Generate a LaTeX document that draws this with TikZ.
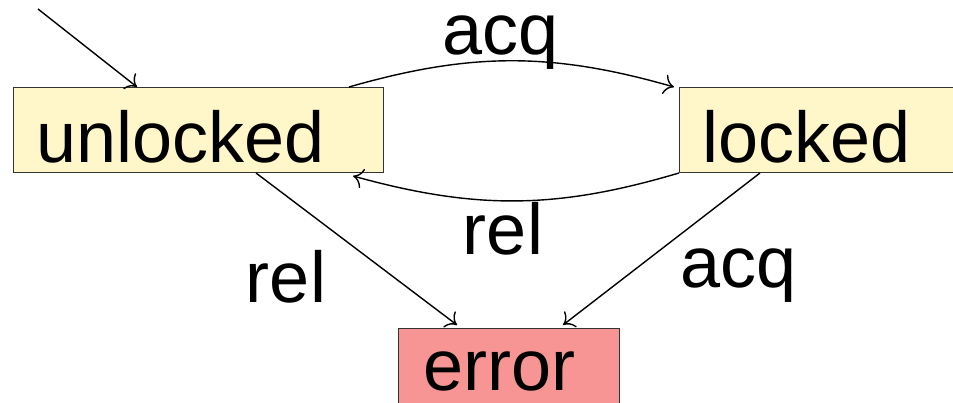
\documentclass[tikz,border=0pt]{standalone}
\usepackage{fontspec}
\setmainfont{Liberation Sans}
\usepackage{tikz}
\usetikzlibrary{arrows.meta,calc}
\definecolor{palido}{HTML}{FFF7C9}
\definecolor{rosado}{HTML}{F79494}

\begin{document}
\begin{tikzpicture}[x=1pt, y=1pt, >={To[length=10pt,width=20pt]},
  estado/.style={draw=black!80, line width=1pt, rectangle, inner ysep=0pt, align=left,
    anchor=north west, font=\fontsize{72}{80}\selectfont},
  seta/.style={->, line width=1.4pt},
  rotulo/.style={font=\fontsize{72}{80}\selectfont, anchor=base, inner sep=0pt}]
  \clip (0,0) rectangle (953,-403);
  % estados
  \node[estado, fill=palido, inner xsep=23pt, text width=324pt, text height=75pt, text depth=10pt] (unlocked) at (13,-87) {unlocked};
  \node[estado, fill=palido, inner xsep=23pt, text width=255pt, text height=75pt, text depth=10pt] (locked) at (679,-87) {locked};
  \node[estado, fill=rosado, inner xsep=25pt, text width=171pt, text height=62pt, text depth=13.5pt] (error) at (398,-328) {error};
  \coordinate (inicio) at (38,-9);
  % transicoes
  \draw[seta] (inicio) -- ($(unlocked.north west)+(124,0)$);
  \draw[seta] ($(unlocked.north east)+(-35,0)$) to[bend left=16] ($(locked.north west)+(-5,0)$);
  \draw[seta] (locked.south west) to[bend left=16] ($(unlocked.south east)+(-31,-3)$);
  \draw[seta] ($(unlocked.south west)+(243,0)$) -- ($(error.north west)+(59,3)$);
  \draw[seta] ($(locked.south west)+(81,0)$) -- ($(error.north west)+(165,3)$);
  % rotulos
  \node[rotulo] (acqtopo) at (501,-55) {acq};
  \node[rotulo] (relmeio) at (503,-255) {rel};
  \node[rotulo] (relesq) at (286,-302) {rel};
  \node[rotulo] (acqdir) at (739,-288) {acq};
\end{tikzpicture}
\end{document}
